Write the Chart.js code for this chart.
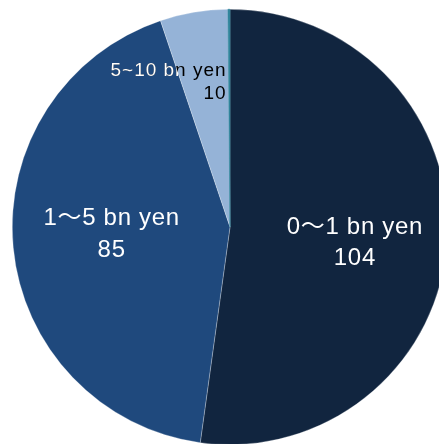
<!DOCTYPE html>
<html>
<head>
<meta charset="utf-8">
<title>Companies by capital size</title>
<script src="https://cdn.jsdelivr.net/npm/chart.js@4/dist/chart.umd.min.js"></script>
<style>
  html, body { margin: 0; padding: 0; background: #ffffff; overflow: hidden; }
  #wrap { width: 439px; height: 444px; overflow: hidden; }
  canvas { display: block; }
</style>
</head>
<body>
<div id="wrap"><canvas id="pie" width="460" height="445"></canvas></div>
<script>
// Capital size bands and number of companies in each
const categories = ['0～1 bn yen', '1～5 bn yen', '5~10 bn yen', '10 bn yen～'];
const counts = [104, 85, 10, 0.3];
const showLabel = [true, true, true, false];

const sliceColors = ['#11253f', '#1f497d', '#95b3d7', '#31859c'];

// Where each label sits: fraction of the radius along the slice middle,
// plus a small nudge and the text settings
const labelStyle = [
  { radial: 0.575, dx: 0, dy: 7, size: 24, spacing: 0.7, gap: 31, align: 'center', color: '#ffffff' },
  { radial: 0.546, dx: 0, dy: -4, size: 24, spacing: 0.7, gap: 32, align: 'center', color: '#ffffff' },
  { radial: 0.674, dx: 21, dy: 0, size: 19, spacing: 1, gap: 23, align: 'right', color: '#000000', underColor: '#ffffff', underIndex: 1 }
];

// Text drawn on top of the slices; a label that spills onto a neighbour
// slice gets its colour switched inside that slice
const sliceLabels = {
  id: 'sliceLabels',
  afterDatasetsDraw(chart) {
    const ctx = chart.ctx;
    const arcs = chart.getDatasetMeta(0).data;

    function writeLines(lines, x, y, st, color) {
      ctx.fillStyle = color;
      lines.forEach((t, k) => {
        ctx.fillText(t, x, y - st.gap / 2 + k * st.gap);
      });
    }

    arcs.forEach((arc, i) => {
      if (!showLabel[i]) return;
      const st = labelStyle[i];
      const p = arc.getProps(['x', 'y', 'startAngle', 'endAngle', 'outerRadius'], true);
      const mid = (p.startAngle + p.endAngle) / 2;
      const r = p.outerRadius * st.radial;
      const x = p.x + Math.cos(mid) * r + st.dx;
      const y = p.y + Math.sin(mid) * r + st.dy;
      const lines = [categories[i], String(counts[i])];

      ctx.save();
      ctx.font = st.size + 'px "Liberation Sans", Arial, "Noto Sans CJK JP", sans-serif';
      ctx.letterSpacing = st.spacing + 'px';
      ctx.textAlign = st.align;
      ctx.textBaseline = 'middle';
      writeLines(lines, x, y, st, st.color);

      if (st.underIndex !== undefined) {
        const n = arcs[st.underIndex].getProps(['x', 'y', 'startAngle', 'endAngle', 'outerRadius'], true);
        ctx.beginPath();
        ctx.moveTo(n.x, n.y);
        ctx.arc(n.x, n.y, n.outerRadius, n.startAngle, n.endAngle);
        ctx.closePath();
        ctx.clip();
        writeLines(lines, x, y, st, st.underColor);
      }
      ctx.restore();
    });
  }
};

new Chart(document.getElementById('pie'), {
  type: 'pie',
  data: {
    labels: categories,
    datasets: [{
      data: counts,
      backgroundColor: sliceColors,
      borderColor: ['rgba(255,255,255,0.45)', 'rgba(255,255,255,0.45)', 'rgba(255,255,255,0.45)', '#31859c'],
      borderWidth: 0.6
    }]
  },
  options: {
    responsive: false,
    animation: false,
    layout: { padding: { left: 12, right: 12, top: 9, bottom: 0 } },
    plugins: {
      legend: { display: false },
      tooltip: { enabled: false }
    }
  },
  plugins: [sliceLabels]
});
</script>
</body>
</html>
